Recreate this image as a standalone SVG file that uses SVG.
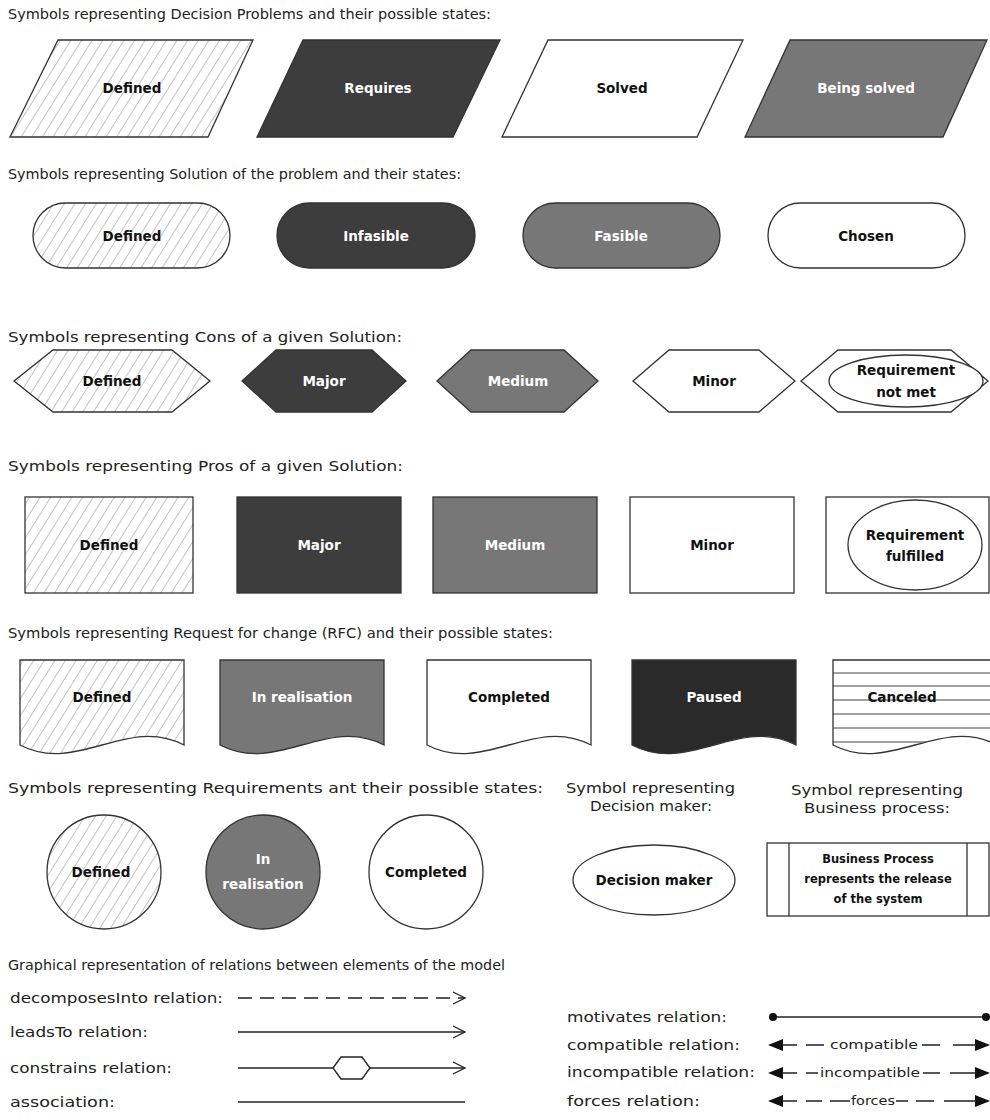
<svg xmlns="http://www.w3.org/2000/svg" width="990" height="1120" viewBox="0 0 990 1120">
  <style>
    .h { font-family: "DejaVu Sans", "Open Sans", sans-serif; font-size: 13.5px; fill: #222; }
    .r { font-family: "DejaVu Sans", "Open Sans", sans-serif; font-size: 14.5px; fill: #222; }
    .lbl { font-family: "DejaVu Sans", "Open Sans", sans-serif; font-size: 13.5px; font-weight: bold; text-anchor: middle; dominant-baseline: central; }
    .dk { fill: #111; }
    .wt { fill: #fff; }
    .sm { font-family: "DejaVu Sans", "Open Sans", sans-serif; font-size: 11.5px; font-weight: bold; text-anchor: middle; dominant-baseline: central; fill: #111; }
    .ed { stroke: #333; stroke-width: 1.3; }
    .hatch { fill: url(#hatch); }
    .dark { fill: #3d3d3d; }
    .grey { fill: #777; }
    .white { fill: #fff; }
    .black { fill: #2a2a2a; }
    .rel { stroke: #222; stroke-width: 1.3; fill: none; }
    .tiny { font-family: "DejaVu Sans", "Open Sans", sans-serif; font-size: 12px; fill: #222; text-anchor: middle; dominant-baseline: central; }
  </style>
  <defs>
    <pattern id="hatch" width="9" height="9" patternUnits="userSpaceOnUse" patternTransform="rotate(32)">
      <rect width="9" height="9" fill="#fff"/>
      <line x1="0" y1="0" x2="0" y2="9" stroke="#888" stroke-width="1"/>
    </pattern>
    <marker id="open" viewBox="0 0 14 14" refX="13" refY="7" markerWidth="14" markerHeight="14" markerUnits="userSpaceOnUse" orient="auto">
      <path d="M1,1 L13,7 L1,13" fill="none" stroke="#222" stroke-width="1.3"/>
    </marker>
    <clipPath id="cancelClip">
      <path d="M833,660 H997 V745 C940,715 890,775 833,745 Z"/>
    </clipPath>
  </defs>

  <!-- section headings -->
  <g id="headings">
    <text class="h" x="8" y="19" textLength="483" lengthAdjust="spacingAndGlyphs">Symbols representing Decision Problems and their possible states:</text>
    <text class="h" x="8" y="179" textLength="453" lengthAdjust="spacingAndGlyphs">Symbols representing Solution of the problem and their states:</text>
    <text class="h" x="8" y="342" textLength="394" lengthAdjust="spacingAndGlyphs">Symbols representing Cons of a given Solution:</text>
    <text class="h" x="8" y="471" textLength="395" lengthAdjust="spacingAndGlyphs">Symbols representing Pros of a given Solution:</text>
    <text class="h" x="8" y="638" textLength="545" lengthAdjust="spacingAndGlyphs">Symbols representing Request for change (RFC) and their possible states:</text>
    <text class="h" x="8" y="793" textLength="535" lengthAdjust="spacingAndGlyphs">Symbols representing Requirements ant their possible states:</text>
    <text class="h" x="566" y="793" textLength="169" lengthAdjust="spacingAndGlyphs">Symbol representing</text>
    <text class="h" x="590" y="811" textLength="122" lengthAdjust="spacingAndGlyphs">Decision maker:</text>
    <text class="h" x="791" y="795" textLength="172" lengthAdjust="spacingAndGlyphs">Symbol representing</text>
    <text class="h" x="804" y="813" textLength="146" lengthAdjust="spacingAndGlyphs">Business process:</text>
    <text class="h" x="8" y="970" textLength="497" lengthAdjust="spacingAndGlyphs">Graphical representation of relations between elements of the model</text>
  </g>

  <!-- decision problems -->
  <g id="problem-defined">
    <polygon class="hatch ed" points="58,40 253,40 208,137 10,137"/>
    <text class="lbl dk" x="132" y="88">Defined</text>
  </g>
  <g id="problem-requires">
    <polygon class="dark ed" points="303,40 500,40 453,137 257,137"/>
    <text class="lbl wt" x="378" y="88">Requires</text>
  </g>
  <g id="problem-solved">
    <polygon class="white ed" points="548,40 743,40 697,137 502,137"/>
    <text class="lbl dk" x="622" y="88">Solved</text>
  </g>
  <g id="problem-being-solved">
    <polygon class="grey ed" points="790,40 987,40 943,137 745,137"/>
    <text class="lbl wt" x="866" y="88">Being solved</text>
  </g>

  <!-- solutions -->
  <g id="solution-defined">
    <rect class="hatch ed" x="33" y="203" width="197" height="65" rx="32.5"/>
    <text class="lbl dk" x="132" y="236">Defined</text>
  </g>
  <g id="solution-infasible">
    <rect class="dark ed" x="277" y="203" width="198" height="65" rx="32.5"/>
    <text class="lbl wt" x="376" y="236">Infasible</text>
  </g>
  <g id="solution-fasible">
    <rect class="grey ed" x="523" y="203" width="197" height="65" rx="32.5"/>
    <text class="lbl wt" x="621" y="236">Fasible</text>
  </g>
  <g id="solution-chosen">
    <rect class="white ed" x="768" y="203" width="197" height="65" rx="32.5"/>
    <text class="lbl dk" x="866" y="236">Chosen</text>
  </g>

  <!-- cons -->
  <g id="cons-defined">
    <polygon class="hatch ed" points="14,381 53,350 172,350 210,381 172,412 53,412"/>
    <text class="lbl dk" x="112" y="381">Defined</text>
  </g>
  <g id="cons-major">
    <polygon class="dark ed" points="242,381 276,350 372,350 406,381 372,412 276,412"/>
    <text class="lbl wt" x="324" y="381">Major</text>
  </g>
  <g id="cons-medium">
    <polygon class="grey ed" points="437,381 471,350 564,350 598,381 564,412 471,412"/>
    <text class="lbl wt" x="518" y="381">Medium</text>
  </g>
  <g id="cons-minor">
    <polygon class="white ed" points="633,381 669,350 759,350 795,381 759,412 669,412"/>
    <text class="lbl dk" x="714" y="381">Minor</text>
  </g>
  <g id="cons-requirement-not-met">
    <polygon class="white ed" points="801,381 838,350 951,350 988,381 951,412 838,412"/>
    <ellipse class="white ed" cx="906" cy="381" rx="77" ry="26"/>
    <text class="lbl dk" x="906" y="370">Requirement</text>
    <text class="lbl dk" x="906" y="392">not met</text>
  </g>

  <!-- pros -->
  <g id="pros-defined">
    <rect class="hatch ed" x="25" y="497" width="168" height="96"/>
    <text class="lbl dk" x="109" y="545">Defined</text>
  </g>
  <g id="pros-major">
    <rect class="dark ed" x="237" y="497" width="164" height="96"/>
    <text class="lbl wt" x="319" y="545">Major</text>
  </g>
  <g id="pros-medium">
    <rect class="grey ed" x="433" y="497" width="164" height="96"/>
    <text class="lbl wt" x="515" y="545">Medium</text>
  </g>
  <g id="pros-minor">
    <rect class="white ed" x="630" y="497" width="164" height="96"/>
    <text class="lbl dk" x="712" y="545">Minor</text>
  </g>
  <g id="pros-requirement-fulfilled">
    <rect class="white ed" x="826" y="497" width="163" height="96"/>
    <ellipse class="white ed" cx="915" cy="545" rx="67" ry="45"/>
    <text class="lbl dk" x="915" y="535">Requirement</text>
    <text class="lbl dk" x="915" y="556">fulfilled</text>
  </g>

  <!-- requests for change -->
  <g id="rfc-defined">
    <path class="hatch ed" d="M20,660 H184 V745 C127,715 77,775 20,745 Z"/>
    <text class="lbl dk" x="102" y="697">Defined</text>
  </g>
  <g id="rfc-in-realisation">
    <path class="grey ed" d="M220,660 H384 V745 C327,715 277,775 220,745 Z"/>
    <text class="lbl wt" x="302" y="697">In realisation</text>
  </g>
  <g id="rfc-completed">
    <path class="white ed" d="M427,660 H591 V745 C534,715 484,775 427,745 Z"/>
    <text class="lbl dk" x="509" y="697">Completed</text>
  </g>
  <g id="rfc-paused">
    <path class="black ed" d="M632,660 H796 V745 C739,715 689,775 632,745 Z"/>
    <text class="lbl wt" x="714" y="697">Paused</text>
  </g>
  <g id="rfc-canceled">
    <path class="white ed" d="M833,660 H997 V745 C940,715 890,775 833,745 Z"/>
    <g clip-path="url(#cancelClip)" stroke="#444" stroke-width="1">
      <line x1="833" y1="673" x2="997" y2="673"/>
      <line x1="833" y1="686" x2="997" y2="686"/>
      <line x1="833" y1="700" x2="997" y2="700"/>
      <line x1="833" y1="714" x2="997" y2="714"/>
      <line x1="833" y1="728" x2="997" y2="728"/>
      <line x1="833" y1="742" x2="997" y2="742"/>
    </g>
    <text class="lbl dk" x="902" y="697">Canceled</text>
  </g>

  <!-- requirements -->
  <g id="req-defined">
    <circle class="hatch ed" cx="104" cy="872" r="57"/>
    <text class="lbl dk" x="101" y="872">Defined</text>
  </g>
  <g id="req-in-realisation">
    <circle class="grey ed" cx="263" cy="872" r="57"/>
    <text class="lbl wt" x="263" y="859">In</text>
    <text class="lbl wt" x="263" y="884">realisation</text>
  </g>
  <g id="req-completed">
    <circle class="white ed" cx="426" cy="872" r="57"/>
    <text class="lbl dk" x="426" y="872">Completed</text>
  </g>

  <!-- decision maker -->
  <g id="decision-maker">
    <ellipse class="white ed" cx="654" cy="880" rx="81" ry="35"/>
    <text class="lbl dk" x="654" y="880">Decision maker</text>
  </g>

  <!-- business process -->
  <g id="business-process">
    <rect class="white ed" x="767" y="843" width="222" height="73"/>
    <line class="ed" x1="789" y1="843" x2="789" y2="916"/>
    <line class="ed" x1="967" y1="843" x2="967" y2="916"/>
    <text class="sm" x="878" y="859">Business Process</text>
    <text class="sm" x="878" y="879">represents the release</text>
    <text class="sm" x="878" y="899">of the system</text>
  </g>

  <!-- relation legend labels -->
  <g id="relation-labels" class="r">
    <text x="10" y="1003" textLength="213" lengthAdjust="spacingAndGlyphs">decomposesInto relation:</text>
    <text x="10" y="1037" textLength="138" lengthAdjust="spacingAndGlyphs">leadsTo relation:</text>
    <text x="10" y="1073" textLength="162" lengthAdjust="spacingAndGlyphs">constrains relation:</text>
    <text x="10" y="1107" textLength="105" lengthAdjust="spacingAndGlyphs">association:</text>
    <text x="567" y="1022" textLength="160" lengthAdjust="spacingAndGlyphs">motivates relation:</text>
    <text x="567" y="1050" textLength="173" lengthAdjust="spacingAndGlyphs">compatible relation:</text>
    <text x="567" y="1077" textLength="188" lengthAdjust="spacingAndGlyphs">incompatible relation:</text>
    <text x="567" y="1106" textLength="133" lengthAdjust="spacingAndGlyphs">forces relation:</text>
  </g>

  <!-- relation samples -->
  <g id="connectors">
    <line class="rel" x1="238" y1="998" x2="465" y2="998" stroke-dasharray="14 8" marker-end="url(#open)"/>
    <line class="rel" x1="238" y1="1032" x2="465" y2="1032" marker-end="url(#open)"/>
    <line class="rel" x1="238" y1="1068" x2="333" y2="1068"/>
    <polygon class="rel" points="333,1068 341,1057 362,1057 370,1068 362,1079 341,1079"/>
    <line class="rel" x1="370" y1="1068" x2="465" y2="1068" marker-end="url(#open)"/>
    <line class="rel" x1="238" y1="1102" x2="465" y2="1102"/>

    <line class="rel" x1="773" y1="1017" x2="986" y2="1017"/>
    <circle cx="773" cy="1017" r="4" fill="#111"/>
    <circle cx="986" cy="1017" r="4" fill="#111"/>

    <g fill="#111">
      <polygon points="768,1045 783,1039 783,1051"/>
      <polygon points="990,1045 975,1039 975,1051"/>
      <polygon points="768,1073 783,1067 783,1079"/>
      <polygon points="990,1073 975,1067 975,1079"/>
      <polygon points="768,1101 783,1095 783,1107"/>
      <polygon points="990,1101 975,1095 975,1107"/>
    </g>
    <path class="rel" d="M782,1045 H797 M806,1045 H824 M922,1045 H940 M953,1045 H976"/>
    <path class="rel" d="M782,1073 H797 M806,1073 H818 M923,1073 H940 M950,1073 H976"/>
    <path class="rel" d="M782,1101 H797 M806,1101 H822 M830,1101 H850 M896,1101 H908 M916,1101 H934 M944,1101 H976"/>
    <text class="tiny" x="874" y="1045" textLength="88" lengthAdjust="spacingAndGlyphs">compatible</text>
    <text class="tiny" x="870" y="1073" textLength="100" lengthAdjust="spacingAndGlyphs">incompatible</text>
    <text class="tiny" x="873" y="1101" textLength="44" lengthAdjust="spacingAndGlyphs">forces</text>
  </g>
</svg>
